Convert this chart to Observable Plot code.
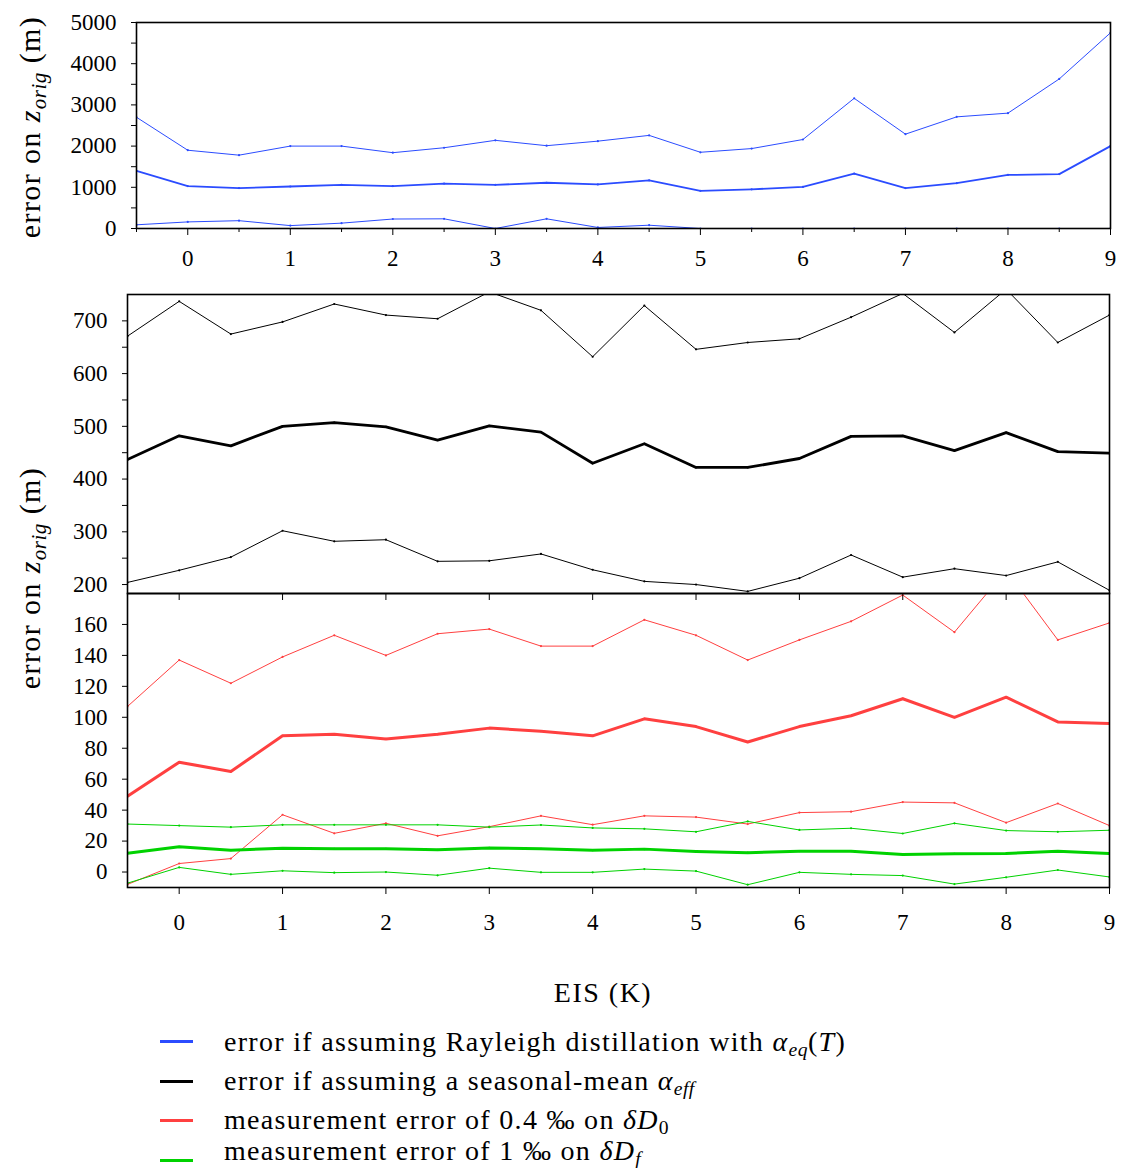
<!DOCTYPE html>
<html><head><meta charset="utf-8">
<script src="https://cdn.jsdelivr.net/npm/d3@7"></script>
<script src="https://cdn.jsdelivr.net/npm/@observablehq/plot@0.6"></script>
<style>
body{margin:0;background:#fff;font-family:"Liberation Serif",serif;color:#000;}
#wrap{position:relative;width:1123px;height:1168px;overflow:hidden;}
.pl{position:absolute;left:0;}
.ylab{position:absolute;transform:translate(-50%,-50%) rotate(-90deg);white-space:nowrap;font-size:30px;letter-spacing:1.4px;}
.xlab{position:absolute;transform:translate(-50%,-50%);white-space:nowrap;font-size:28px;letter-spacing:1.5px;}
.row{position:absolute;transform:translateY(-50%);white-space:nowrap;font-size:28px;letter-spacing:1.3px;line-height:1;}
.sw{position:absolute;left:160px;width:33px;height:3px;}
sub{font-size:70%;vertical-align:-0.28em;line-height:0;letter-spacing:0.5px;}
</style></head><body><div id="wrap"></div>
<script>
// x positions (EIS, K)
const eis = [-0.5,0,0.5,1,1.5,2,2.5,3,3.5,4,4.5,5,5.5,6,6.5,7,7.5,8,8.5,9];
// top panel: Rayleigh distillation with alpha_eq(T)
const blueUpper = [2700,1900,1780,2000,2000,1840,1960,2140,2010,2120,2260,1850,1940,2160,3160,2290,2710,2800,3630,4750];
const blueMid   = [1400,1030,980,1020,1060,1030,1090,1060,1110,1070,1170,915,950,1010,1330,980,1100,1300,1320,2000];
const blueLower = [90,160,190,70,130,230,235,0,235,25,80,0,0,0,0,0,0,0,0,0];
// middle panel: seasonal-mean alpha_eff
const blackUpper = [671,737,675,698,732,711,704,755,720,632,729,646,659,666,707,752,678,760,659,711];
const blackMid   = [437,482,463,500,507,499,474,501,489,430,467,422,422,439,481,482,454,488,452,449];
const blackLower = [204,227,252,302,282,285,244,245,258,228,206,200,187,212,256,214,230,217,243,189];
// bottom panel: measurement errors
const redUpper = [107,137,122,139,153,140,154,157,146,146,163,153,137,150,162,179,155,195,150,161];
const redMid   = [49,71,65,88,89,86,89,93,91,88,99,94,84,94,101,112,100,113,97,96];
const redLower = [-8,5.5,8.7,37,25,31.5,23.4,29.3,36.3,30.6,36.3,35.5,31,38.4,39,45.2,44.7,31.9,44.3,30];
const greenUpper = [31,30,29,30.5,30.5,30.5,30.5,29,30.4,28.5,27.9,26,32.7,27.2,28.3,24.9,31.5,26.8,26,27];
const greenMid   = [12.2,16.3,14.1,15.4,15,15,14.4,15.6,15,14.1,14.8,13.3,12.5,13.5,13.5,11.4,11.8,12,13.5,12];
const greenLower = [-7.2,3,-1.5,0.8,-0.4,0,-2.1,2.5,-0.2,-0.2,1.9,0.6,-8.2,-0.2,-1.5,-2.3,-7.8,-3.4,1.3,-3.2];

// ticks
const xTicks = [0,1,2,3,4,5,6,7,8,9];
const xMinorTicks = [-0.5,0.5,1.5,2.5,3.5,4.5,5.5,6.5,7.5,8.5];
const topYTicks = [0,1000,2000,3000,4000,5000];
const topYMinor = [500,1500,2500,3500,4500];
const midYTicks = [200,300,400,500,600,700];
const midYMinor = [250,350,450,550,650];
const botYTicks = [0,20,40,60,80,100,120,140,160];

const BLUE = "#2b4cff", BLACK = "#000000", RED = "#ff4040", GREEN = "#00d200";

const pts = vals => eis.map((x,i)=>({x, y: vals[i]}));
function seriesMarks(vals, color, w){
  const d = pts(vals);
  return [
    Plot.line(d, {x:"x", y:"y", stroke: color, strokeWidth: w, clip: true}),
    Plot.dot(d, {x:"x", y:"y", r: 1.1, fill: color, clip: true})
  ];
}
const FONT = "'Liberation Serif', serif";
const baseStyle = {fontFamily: FONT, fontSize: "23px", color: "#000", background: "transparent", overflow: "visible"};
const fmt = d3.format("d");

const wrap = document.getElementById("wrap");

// ---- top panel
const p1 = Plot.plot({
  width: 1123, height: 290, marginLeft: 136, marginRight: 13, marginTop: 22, marginBottom: 62,
  style: baseStyle,
  x: {domain: [-0.5, 9], label: null},
  y: {domain: [0, 5000], label: null},
  marks: [
    ...seriesMarks(blueUpper, BLUE, 1),
    ...seriesMarks(blueMid, BLUE, 1.8),
    ...seriesMarks(blueLower, BLUE, 1),
    Plot.frame({stroke: "#000", strokeWidth: 1.6}),
    Plot.axisX({ticks: xTicks, tickSize: 7, tickPadding: 14, fontSize: 23, tickFormat: fmt}),
    Plot.axisX({ticks: xMinorTicks, tickSize: 4, tickFormat: () => ""}),
    Plot.axisY({ticks: topYTicks, tickSize: 5, tickPadding: 15, fontSize: 23, tickFormat: fmt}),
    Plot.axisY({ticks: topYMinor, tickSize: 5, tickFormat: () => ""})
  ]
});
p1.classList.add("pl"); p1.style.top = "0px";
wrap.appendChild(p1);

// ---- middle panel
const p2 = Plot.plot({
  width: 1123, height: 313, marginLeft: 127, marginRight: 14, marginTop: 14, marginBottom: 0,
  style: baseStyle,
  x: {domain: [-0.5, 9], label: null, axis: null},
  y: {domain: [183, 750], label: null},
  marks: [
    ...seriesMarks(blackUpper, BLACK, 1),
    ...seriesMarks(blackMid, BLACK, 2.8),
    ...seriesMarks(blackLower, BLACK, 1),
    Plot.frame({stroke: "#000", strokeWidth: 1.6}),
    Plot.axisY({ticks: midYTicks, tickSize: 5, tickPadding: 15, fontSize: 23, tickFormat: fmt}),
    Plot.axisY({ticks: midYMinor, tickSize: 5, tickFormat: () => ""})
  ]
});
p2.classList.add("pl"); p2.style.top = "280px";
wrap.appendChild(p2);

// ---- bottom panel
const p3 = Plot.plot({
  width: 1123, height: 366, marginLeft: 127, marginRight: 14, marginTop: 0, marginBottom: 72,
  style: baseStyle,
  x: {domain: [-0.5, 9], label: null},
  y: {domain: [-10, 180], label: null},
  marks: [
    ...seriesMarks(redUpper, RED, 1),
    ...seriesMarks(redMid, RED, 3),
    ...seriesMarks(redLower, RED, 1),
    ...seriesMarks(greenUpper, GREEN, 1),
    ...seriesMarks(greenMid, GREEN, 3),
    ...seriesMarks(greenLower, GREEN, 1),
    Plot.frame({stroke: "#000", strokeWidth: 1.6}),
    Plot.tickX(xTicks, {x: d => d, insetBottom: 287, stroke: "#000", strokeWidth: 1}),
    Plot.axisX({ticks: xTicks, tickSize: 7, tickPadding: 19, fontSize: 23, tickFormat: fmt}),
    Plot.axisY({ticks: botYTicks, tickSize: 5, tickPadding: 15, fontSize: 23, tickFormat: fmt})
  ]
});
p3.classList.add("pl"); p3.style.top = "593px";
wrap.appendChild(p3);

// ---- labels (HTML text)
const ylabHTML = 'error on <i>z</i><sub><i>orig</i></sub> (m)';
function addDiv(cls, html, left, top){
  const d = document.createElement("div");
  d.className = cls; d.innerHTML = html;
  d.style.left = left + "px"; d.style.top = top + "px";
  wrap.appendChild(d); return d;
}
addDiv("ylab", ylabHTML, 30, 127);
addDiv("ylab", ylabHTML, 30, 578);
addDiv("xlab", "EIS (K)", 603, 993);

// ---- legend
const legend = [
  {color: BLUE,  y: 1042, html: 'error if assuming Rayleigh distillation with <i>α</i><sub><i>eq</i></sub>(<i>T</i>)'},
  {color: BLACK, y: 1081, html: 'error if assuming a seasonal-mean <i>α</i><sub><i>eff</i></sub>'},
  {color: RED,   y: 1120, html: 'measurement error of 0.4 ‰ on <i>δD</i><sub>0</sub>'},
  {color: GREEN, y: 1151, html: 'measurement error of 1 ‰ on <i>δD</i><sub><i>f</i></sub>'}
];
const swY = [1041, 1081, 1120, 1160];
legend.forEach((e, i) => {
  const s = document.createElement("div");
  s.className = "sw"; s.style.background = e.color; s.style.top = (swY[i] - 1.5) + "px";
  wrap.appendChild(s);
  addDiv("row", e.html, 224, e.y);
});
</script></body></html>
